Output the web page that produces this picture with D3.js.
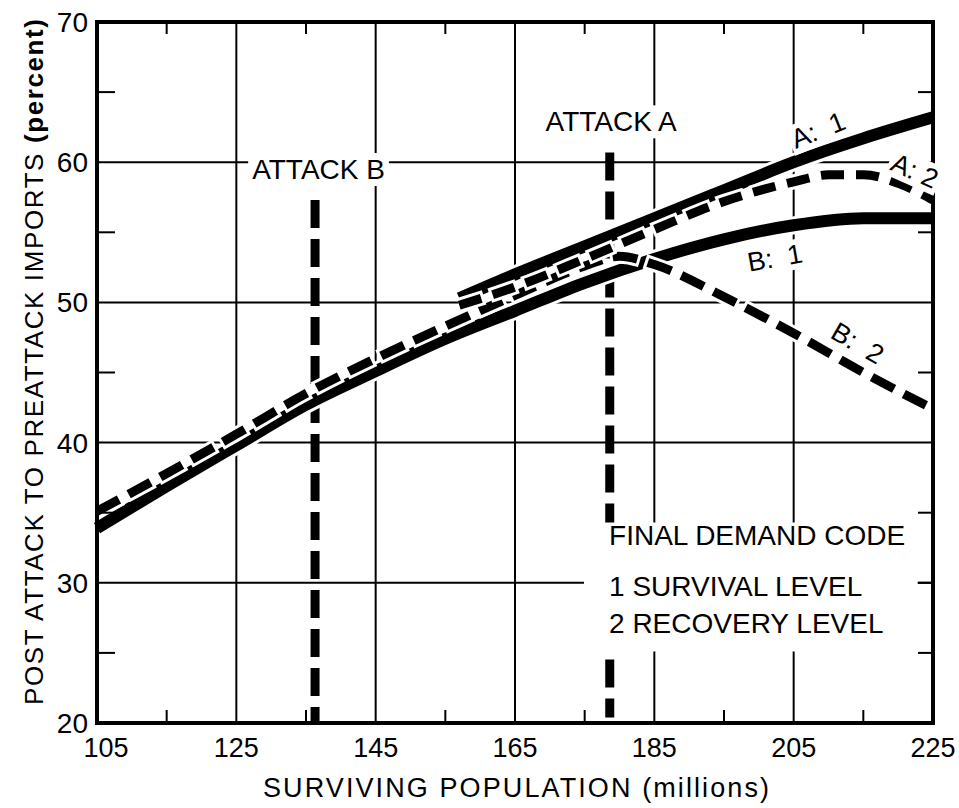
<!DOCTYPE html>
<html>
<head><meta charset="utf-8">
<style>
  body { margin: 0; background: #fff; }
  text { font-family: "Liberation Sans", Arial, sans-serif; fill: #000; }
</style>
</head>
<body>
<script src="https://d3js.org/d3.v7.min.js"></script>
<script>
var width = 959, height = 808;
var margin = {top: 22, right: 26, bottom: 85, left: 97};

// axis ticks
var xTicks = [105, 125, 145, 165, 185, 205, 225];
var xMinor = [115, 135, 155, 175, 195, 215];
var yTicks = [20, 30, 40, 50, 60, 70];
var yMinor = [25, 35, 45, 55, 65];

// curves (surviving population in millions, post/pre attack imports %)
var popA1 = [157, 165, 175, 185, 195, 205, 215, 225];
var impA1 = [50.3, 52.0, 54.0, 56.0, 58.0, 60.0, 61.7, 63.2];
var popA2 = [157, 165, 175, 185, 195, 205, 210, 215, 220, 225];
var impA2 = [49.8, 51.1, 53.1, 55.2, 57.2, 58.6, 59.1, 59.1, 58.5, 57.3];
var popB1 = [105, 115, 125, 135, 145, 155, 165, 175, 185, 195, 205, 215, 225];
var impB1 = [33.9, 36.9, 39.8, 42.7, 45.1, 47.4, 49.4, 51.4, 53.1, 54.5, 55.5, 56.0, 56.0];
var popB2 = [105, 115, 125, 135, 145, 155, 165, 175, 180, 185, 195, 205, 215, 225];
var impB2 = [35.1, 37.8, 40.6, 43.5, 46.0, 48.3, 50.5, 52.6, 53.3, 52.7, 50.4, 47.8, 45.0, 42.4];

// attack markers
var attackNames = ["ATTACK B", "ATTACK A"];
var attackPop = [136.3, 178.6];
var attackTop = [57.3, 60.7];
var attackBottom = [20, 20.4];

var legendLines = ["FINAL DEMAND CODE", "1 SURVIVAL LEVEL", "2 RECOVERY LEVEL"];

var x = d3.scaleLinear().domain([105, 225]).range([margin.left, width - margin.right]);
var y = d3.scaleLinear().domain([20, 70]).range([height - margin.bottom, margin.top]);

var svg = d3.select("body").append("svg")
    .attr("width", width)
    .attr("height", height);

// white box behind a text, in its own coordinates
function knockout(sel, pad) {
  sel.each(function() {
    var b = this.getBBox();
    d3.select(this.parentNode).insert("rect", function() { return this; }.bind(this))
      .attr("transform", this.getAttribute("transform"))
      .attr("x", b.x - pad).attr("y", b.y - pad + 3)
      .attr("width", b.width + 2 * pad).attr("height", b.height + 2 * pad - 6)
      .attr("fill", "#fff");
  });
}

// grid
var grid = svg.append("g").attr("stroke", "#000").attr("stroke-width", 2);
grid.selectAll(".vg").data(xTicks.slice(1, -1)).enter().append("line")
    .attr("x1", d => x(d)).attr("x2", d => x(d))
    .attr("y1", y(70)).attr("y2", y(20));
grid.selectAll(".hg").data(yTicks.slice(1, -1)).enter().append("line")
    .attr("x1", x(105)).attr("x2", x(225))
    .attr("y1", d => y(d)).attr("y2", d => y(d));

// attack lines
svg.append("g").selectAll("line").data(attackPop).enter().append("line")
    .attr("x1", d => x(d)).attr("x2", d => x(d))
    .attr("y1", (d, i) => y(attackTop[i])).attr("y2", (d, i) => y(attackBottom[i]))
    .attr("stroke", "#000").attr("stroke-width", 9)
    .attr("stroke-dasharray", "28,11");

var line = d3.line()
    .x(d => x(d[0])).y(d => y(d[1]))
    .curve(d3.curveMonotoneX);

var series = [
  {pop: popB1, imp: impB1, dash: null},
  {pop: popB2, imp: impB2, dash: [25, 11]},
  {pop: popA1, imp: impA1, dash: null},
  {pop: popA2, imp: impA2, dash: [23, 12]}
];

series.forEach(function(s) {
  var pts = s.pop.map((p, i) => [p, s.imp[i]]);
  var w = s.dash ? 9 : 12;
  var halo = svg.append("path")
      .attr("d", line(pts))
      .attr("fill", "none")
      .attr("stroke", "#fff")
      .attr("stroke-width", w + 6);
  if (s.dash) {
    halo.attr("stroke-dasharray", (s.dash[0] + 6) + "," + (s.dash[1] - 6))
        .attr("stroke-dashoffset", 3);
  }
  var p = svg.append("path")
      .attr("d", line(pts))
      .attr("fill", "none")
      .attr("stroke", "#000")
      .attr("stroke-width", w);
  if (s.dash) p.attr("stroke-dasharray", s.dash.join(","));
});

// attack labels
var al = svg.append("g").selectAll("text").data(attackNames).enter().append("text")
    .attr("transform", (d, i) => "translate(" + (i == 0 ? x(136.8) : x(178.8)) + "," + (i == 0 ? y(58.8) : y(62.2)) + ")")
    .attr("text-anchor", "middle")
    .style("font-size", "28px")
    .text(d => d);
knockout(al, 4);

// legend block knocks out the grid
svg.append("rect")
    .attr("x", x(174.9)).attr("y", y(34.3))
    .attr("width", x(222.8) - x(174.9)).attr("height", y(25.1) - y(34.3))
    .attr("fill", "#fff");
svg.append("g").selectAll("text").data(legendLines).enter().append("text")
    .attr("x", x(178.5))
    .attr("y", (d, i) => [545, 596, 633][i])
    .style("font-size", "28px")
    .text(d => d);

// ticks
var tk = svg.append("g").attr("stroke", "#000").attr("stroke-width", 2);
tk.selectAll(".tt").data(xMinor).enter().append("line")
    .attr("x1", d => x(d)).attr("x2", d => x(d)).attr("y1", y(70)).attr("y2", y(70) + 12);
tk.selectAll(".bt").data(xMinor).enter().append("line")
    .attr("x1", d => x(d)).attr("x2", d => x(d)).attr("y1", y(20)).attr("y2", y(20) - 13);
tk.selectAll(".lt").data(yMinor).enter().append("line")
    .attr("x1", x(105)).attr("x2", x(105) + 18).attr("y1", d => y(d)).attr("y2", d => y(d));
tk.selectAll(".rt").data(yMinor.concat([30])).enter().append("line")
    .attr("x1", x(225)).attr("x2", x(225) - 15).attr("y1", d => y(d)).attr("y2", d => y(d));

// frame
svg.append("rect")
    .attr("x", x(105)).attr("y", y(70))
    .attr("width", x(225) - x(105)).attr("height", y(20) - y(70))
    .attr("fill", "none").attr("stroke", "#000").attr("stroke-width", 4);

// curve labels (drawn last, they cut the frame)
var curveLabels = [
  {t: "A:  1", px: 208.5, v: 62.3, r: -22},
  {t: "A: 2", px: 222.4, v: 59.4, r: 24},
  {t: "B:  1", px: 202.3, v: 53.2, r: -10},
  {t: "B:  2", px: 214.2, v: 47.1, r: 30}
];
var cl = svg.append("g").selectAll("text").data(curveLabels).enter().append("text")
    .attr("transform", d => "translate(" + x(d.px) + "," + y(d.v) + ") rotate(" + d.r + ")")
    .attr("text-anchor", "middle")
    .attr("dy", "0.35em")
    .style("font-size", "27px")
    .style("white-space", "pre")
    .text(d => d.t);
knockout(cl, 3);

// tick labels
svg.append("g").selectAll("text").data(xTicks).enter().append("text")
    .attr("x", d => x(d) + (d == 105 ? 9 : 0))
    .attr("y", 757)
    .attr("text-anchor", "middle")
    .style("font-size", "27px")
    .text(d => d);
svg.append("g").selectAll("text").data(yTicks).enter().append("text")
    .attr("x", 88)
    .attr("y", d => y(d))
    .attr("dy", "0.36em")
    .attr("text-anchor", "end")
    .style("font-size", "28px")
    .text(d => d);

// axis titles
var xt = svg.append("text")
    .attr("x", 516).attr("y", 797)
    .attr("text-anchor", "middle")
    .attr("textLength", 506).attr("lengthAdjust", "spacing")
    .style("font-size", "27px");
xt.append("tspan").text("SURVIVING POPULATION ");
xt.append("tspan").text("(millions)");

var yt = svg.append("text")
    .attr("transform", "translate(43,362) rotate(-90)")
    .attr("text-anchor", "middle")
    .attr("textLength", 686).attr("lengthAdjust", "spacing")
    .style("font-size", "26px");
yt.append("tspan").text("POST ATTACK TO PREATTACK IMPORTS ");
yt.append("tspan").style("font-weight", "bold").text("(percent)");
</script>
</body>
</html>
